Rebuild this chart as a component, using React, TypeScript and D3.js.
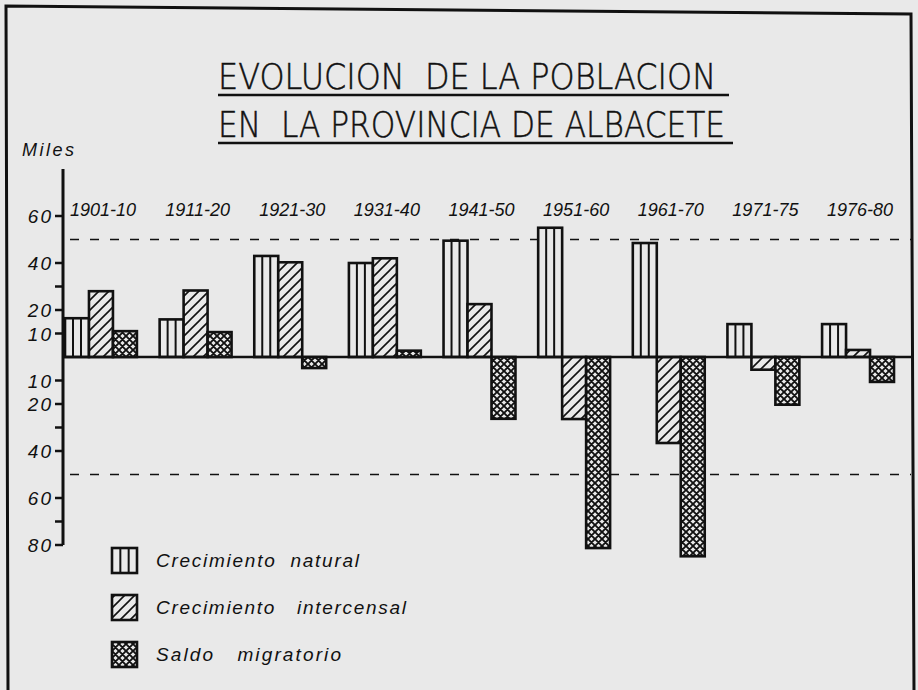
import React from 'react';
import * as d3 from 'd3';

const periods = ['1901-10', '1911-20', '1921-30', '1931-40', '1941-50', '1951-60', '1961-70', '1971-75', '1976-80'];
const natural = [16.5, 16, 43, 40, 49.5, 55, 48.5, 14, 14];
const intercensal = [28, 28.3, 40.3, 42, 22.5, -26.4, -36.6, -5.4, 3];
const migratory = [11, 10.6, -4.7, 2.7, -26.3, -81.3, -84.8, -20.3, -10.6];
const labelledTicks = [60, 40, 20, 10, -10, -20, -40, -60, -80];
const minorTicks = [30, -30, -70];
const refLines = [50, -50];
const titleLines = ['EVOLUCION  DE LA POBLACION', 'EN  LA PROVINCIA DE ALBACETE'];
const legendLabels = ['Crecimiento  natural', 'Crecimiento   intercensal', 'Saldo   migratorio'];
const legendWidths = [203, 250, 185];

const W = 918;
const H = 690;
const BG = '#e9e9e9';
const INK = '#111';

const App: React.FC = () => {
  const x = d3.scaleBand<string>().domain(periods).range([65, 894]).paddingInner(0.24).paddingOuter(0);
  const y = d3.scaleLinear().domain([-80, 80]).range([545, 169]);
  const axisX = 63;
  const rightX = 911;
  const bw = x.bandwidth() / 3;

  const series = [
    { key: 'nat', values: natural, fill: BG },
    { key: 'int', values: intercensal, fill: 'url(#hatch)' },
    { key: 'mig', values: migratory, fill: 'url(#cross)' },
  ];

  const italic = { fontFamily: '"Liberation Sans", Arial, sans-serif', fontStyle: 'italic' as const };
  const pre = { whiteSpace: 'pre' as const };

  return (
    <svg width={W} height={H} style={{ position: 'absolute', left: 0, top: 0 }}>
      <defs>
        <pattern id="hatch" patternUnits="userSpaceOnUse" width="10" height="10">
          <rect width="10" height="10" fill={BG} />
          <path d="M-2,12 L12,-2 M-2,2 L2,-2 M8,12 L12,8" stroke={INK} strokeWidth="1.6" />
        </pattern>
        <pattern id="cross" patternUnits="userSpaceOnUse" width="7" height="7">
          <rect width="7" height="7" fill={BG} />
          <path d="M-1,8 L8,-1 M-1,-1 L8,8 M-1,1 L1,-1 M6,8 L8,6 M-1,6 L1,8 M6,-1 L8,1" stroke={INK} strokeWidth="1.9" />
        </pattern>
      </defs>
      <rect width={W} height={H} fill={BG} />

      {/* frame */}
      <path d="M8,690 L6,6 L911,14 L914,690" fill="none" stroke={INK} strokeWidth="3" />

      {/* title */}
      <g fontFamily='"DejaVu Sans", "Liberation Sans", sans-serif' fontWeight="200" fontSize="36" fill={INK} stroke={INK} strokeWidth="0.5">
        <text x={218} y={89} textLength={498} lengthAdjust="spacingAndGlyphs" xmlSpace="preserve" style={pre}>{titleLines[0]}</text>
        <text x={218} y={137} textLength={507} lengthAdjust="spacingAndGlyphs" xmlSpace="preserve" style={pre}>{titleLines[1]}</text>
      </g>
      <line x1={218} x2={729} y1={95} y2={95} stroke={INK} strokeWidth="2.5" />
      <line x1={218} x2={733} y1={143} y2={143} stroke={INK} strokeWidth="2.5" />

      {/* dashed reference lines */}
      {refLines.map(v => (
        <line key={v} x1={70} x2={rightX} y1={y(v)} y2={y(v)} stroke={INK} strokeWidth="1.5" strokeDasharray="9,11" />
      ))}

      {/* bars */}
      {series.map((s, si) => (
        <g key={s.key}>
          {s.values.map((v, i) => {
            const bx = (x(periods[i]) as number) + si * bw;
            const top = Math.min(y(v), y(0));
            const h = Math.abs(y(v) - y(0));
            return (
              <g key={i}>
                <rect x={bx} y={top} width={bw} height={h} fill={s.fill} stroke={INK} strokeWidth="2.6" />
                {s.key === 'nat' && [1, 2].map(k => (
                  <line key={k} x1={bx + (bw * k) / 3} x2={bx + (bw * k) / 3} y1={top} y2={top + h} stroke={INK} strokeWidth="2" />
                ))}
              </g>
            );
          })}
        </g>
      ))}

      {/* zero line and axis */}
      <line x1={axisX} x2={rightX} y1={y(0)} y2={y(0)} stroke={INK} strokeWidth="2.5" />
      <line x1={axisX} x2={axisX} y1={y(80)} y2={y(-80)} stroke={INK} strokeWidth="3" />
      {labelledTicks.concat(minorTicks).map(v => (
        <line key={'t' + v} x1={axisX - 8} x2={axisX} y1={y(v)} y2={y(v)} stroke={INK} strokeWidth="2.5" />
      ))}
      <g {...italic} fontSize="19" fill={INK} textAnchor="end">
        {labelledTicks.map(v => (
          <text key={v} x={axisX - 10} y={y(v) + 7} letterSpacing="2">{Math.abs(v)}</text>
        ))}
      </g>
      <text x={22} y={156} {...italic} fontSize="18" fill={INK} letterSpacing="2.5">Miles</text>

      {/* period labels */}
      <g {...italic} fontSize="18" fill={INK} textAnchor="middle">
        {periods.map(p => (
          <text key={p} x={(x(p) as number) + x.bandwidth() / 2 + 2} y={216}>{p}</text>
        ))}
      </g>

      {/* legend */}
      {legendLabels.map((l, i) => {
        const ly = 548 + i * 47;
        const fill = series[i].fill;
        return (
          <g key={l}>
            <rect x={112} y={ly} width={25} height={25} fill={fill} stroke={INK} strokeWidth="2.6" />
            {i === 0 && [1, 2].map(k => (
              <line key={k} x1={112 + (25 * k) / 3} x2={112 + (25 * k) / 3} y1={ly} y2={ly + 25} stroke={INK} strokeWidth="2" />
            ))}
            <text x={156} y={ly + 19} {...italic} fontSize="19" fill={INK} style={pre} xmlSpace="preserve" textLength={legendWidths[i]} lengthAdjust="spacing">{l}</text>
          </g>
        );
      })}
    </svg>
  );
};

export default App;
